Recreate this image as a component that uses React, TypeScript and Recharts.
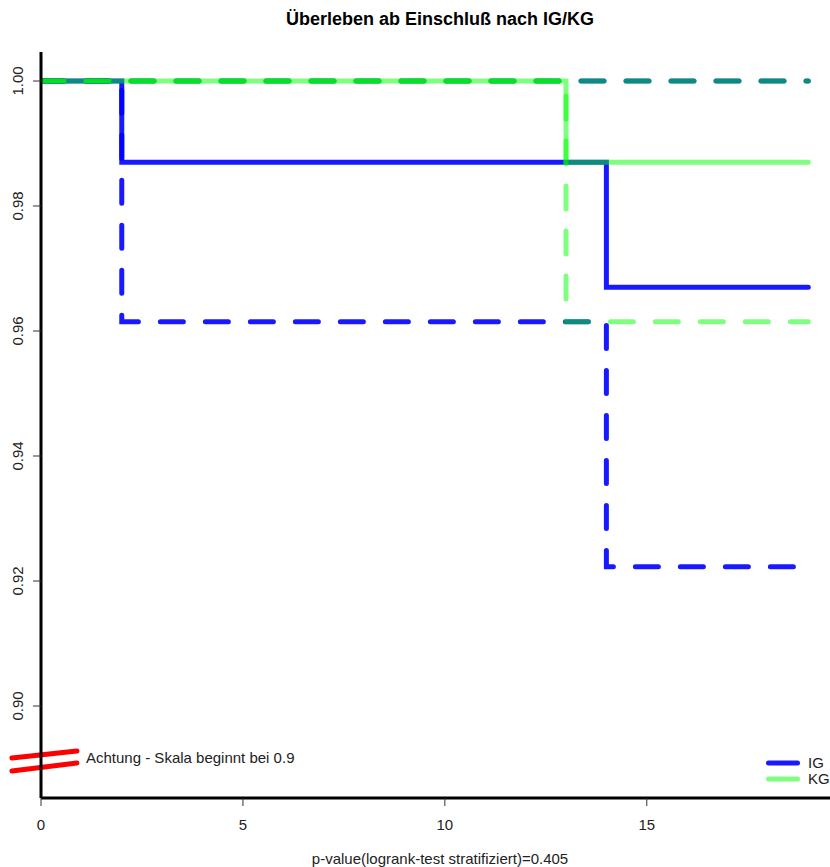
import { LineChart, Line, XAxis, YAxis, Legend, ReferenceLine } from 'recharts';

// Kaplan-Meier steps (time in months), with lower/upper confidence bands
const times = [0, 2, 13, 14, 19];
const igSurvival = [1, 0.987, 0.987, 0.967, 0.967];
const igLower = [1, 0.9615, 0.9615, 0.9223, 0.9223];
const igUpper = [1, 1, 1, 1, 1];
const kgSurvival = [1, 1, 0.987, 0.987, 0.987];
const kgLower = [1, 1, 0.9615, 0.9615, 0.9615];
const kgUpper = [1, 1, 1, 1, 1];

const xTicks = [0, 5, 10, 15];
const yTicks = [0.9, 0.92, 0.94, 0.96, 0.98, 1.0];

const BLUE = '#0000ff';
const GREEN = '#00ff00';
const FONT = 'Arial, "Liberation Sans", sans-serif';

const rows = times.map((t, i) => ({
  t,
  igS: igSurvival[i],
  igL: igLower[i],
  igU: igUpper[i],
  kgS: kgSurvival[i],
  kgL: kgLower[i],
  kgU: kgUpper[i],
}));

const YTick = ({ x, y, payload }: any) => {
  const cx = x - 10;
  return (
    <text
      x={cx}
      y={y}
      transform={`rotate(-90 ${cx} ${y})`}
      textAnchor="middle"
      fontSize={15}
      fill="#222"
      fontFamily={FONT}
    >
      {Number(payload.value).toFixed(2)}
    </text>
  );
};

// only the two survival curves get a legend entry
const LegendBox = ({ payload }: any) => (
  <div style={{ fontFamily: FONT, fontSize: 15, color: '#222' }}>
    {(payload || [])
      .filter((entry: any) => entry.type !== 'none')
      .map((entry: any) => (
        <div key={entry.value} style={{ height: 16, lineHeight: '16px', display: 'flex', alignItems: 'center' }}>
          <svg width={42} height={16}>
            <line
              x1={2.5}
              y1={8}
              x2={31.5}
              y2={8}
              stroke={entry.color}
              strokeOpacity={entry.color === BLUE ? 0.9 : 0.5}
              strokeWidth={5}
              strokeLinecap="round"
            />
          </svg>
          <span>{entry.value}</span>
        </div>
      ))}
  </div>
);

const dash = '23 22';

export default function App() {
  return (
    <div
      style={{
        position: 'fixed',
        left: 0,
        top: 0,
        width: 830,
        height: 867,
        overflow: 'hidden',
        background: '#fff',
        fontFamily: FONT,
      }}
    >
      <div
        style={{
          position: 'absolute',
          left: 0,
          width: 880,
          top: 10,
          textAlign: 'center',
          fontSize: 18,
          lineHeight: '18px',
          fontWeight: 'bold',
          color: '#000',
        }}
      >
        Überleben ab Einschluß nach IG/KG
      </div>
      <LineChart width={880} height={867} data={rows} margin={{ top: 52, right: 41, bottom: 39, left: 0 }}>
        <XAxis
          dataKey="t"
          type="number"
          domain={[0, 19.76]}
          allowDataOverflow
          ticks={xTicks}
          axisLine={{ stroke: '#000', strokeWidth: 3 }}
          tickLine={{ stroke: '#333' }}
          tickSize={8}
          tickMargin={13}
          tick={{ fontSize: 15, fill: '#222', fontFamily: FONT }}
          height={30}
        />
        <YAxis
          type="number"
          domain={[0.88528, 1.00464]}
          allowDataOverflow
          ticks={yTicks}
          axisLine={{ stroke: '#000', strokeWidth: 3 }}
          tickLine={{ stroke: '#333' }}
          tickSize={8}
          tickMargin={0}
          tick={<YTick />}
          width={41}
        />
        <Legend
          layout="vertical"
          align="center"
          verticalAlign="middle"
          content={<LegendBox />}
          wrapperStyle={{ position: 'absolute', left: 766, top: 755, width: 80 }}
        />
        {/* axis break marks */}
        <ReferenceLine
          segment={[{ x: -0.72, y: 0.89168 }, { x: 0.89, y: 0.8928 }]}
          ifOverflow="visible"
          stroke="#ff0000"
          strokeWidth={5}
          strokeLinecap="round"
        />
        <ReferenceLine
          segment={[{ x: -0.72, y: 0.8896 }, { x: 0.89, y: 0.89088 }]}
          ifOverflow="visible"
          stroke="#ff0000"
          strokeWidth={5}
          strokeLinecap="round"
        />
        {/* IG */}
        <Line dataKey="igS" name="IG" type="stepAfter" stroke={BLUE} strokeOpacity={0.9} strokeWidth={5} strokeLinecap="round" dot={false} activeDot={false} isAnimationActive={false} />
        <Line dataKey="igL" legendType="none" type="stepAfter" stroke={BLUE} strokeOpacity={0.9} strokeWidth={5} strokeDasharray={dash} strokeLinecap="round" dot={false} activeDot={false} isAnimationActive={false} />
        <Line dataKey="igU" legendType="none" type="stepAfter" stroke={BLUE} strokeOpacity={0.9} strokeWidth={5} strokeDasharray={dash} strokeLinecap="round" dot={false} activeDot={false} isAnimationActive={false} />
        {/* KG */}
        <Line dataKey="kgS" name="KG" type="stepAfter" stroke={GREEN} strokeOpacity={0.5} strokeWidth={5} strokeLinecap="round" dot={false} activeDot={false} isAnimationActive={false} />
        <Line dataKey="kgL" legendType="none" type="stepAfter" stroke={GREEN} strokeOpacity={0.5} strokeWidth={5} strokeDasharray={dash} strokeLinecap="round" dot={false} activeDot={false} isAnimationActive={false} />
        <Line dataKey="kgU" legendType="none" type="stepAfter" stroke={GREEN} strokeOpacity={0.5} strokeWidth={5} strokeDasharray={dash} strokeLinecap="round" dot={false} activeDot={false} isAnimationActive={false} />
      </LineChart>
      <div
        style={{
          position: 'absolute',
          left: 86,
          top: 750,
          fontSize: 15,
          lineHeight: '15px',
          color: '#222',
          whiteSpace: 'nowrap',
        }}
      >
        Achtung - Skala beginnt bei 0.9
      </div>
      <div
        style={{
          position: 'absolute',
          left: 0,
          width: 880,
          top: 851,
          textAlign: 'center',
          fontSize: 15,
          lineHeight: '15px',
          color: '#222',
        }}
      >
        p-value(logrank-test stratifiziert)=0.405
      </div>
    </div>
  );
}
